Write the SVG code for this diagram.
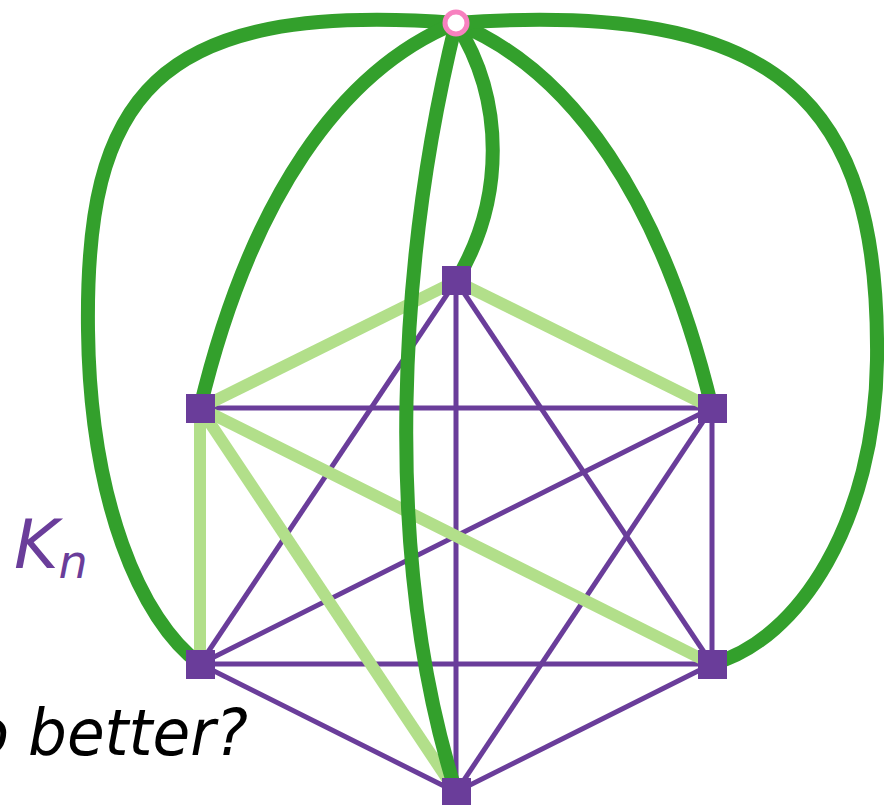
<svg xmlns="http://www.w3.org/2000/svg" width="884" height="805" viewBox="0 0 884 805">
<style>
.p{stroke:#6a3d9a;stroke-width:5;fill:none}
.lg{stroke:#b2df8a;stroke-width:12;fill:none}
.dg{stroke:#33a02c;stroke-width:14;fill:none;stroke-linecap:round}
.n{fill:#6a3d9a}
.t{font-family:"DejaVu Sans",sans-serif;font-style:italic}
</style>
<rect width="884" height="805" fill="#fff"/>
<g id="connectors">
<line class="p" x1="200" y1="408" x2="712" y2="408"/>
<line class="p" x1="456" y1="281" x2="200" y2="664"/>
<line class="p" x1="456" y1="281" x2="456" y2="792"/>
<line class="p" x1="456" y1="281" x2="712" y2="664"/>
<line class="p" x1="712" y1="408" x2="200" y2="664"/>
<line class="p" x1="712" y1="408" x2="712" y2="664"/>
<line class="p" x1="712" y1="408" x2="456" y2="792"/>
<line class="p" x1="200" y1="664" x2="712" y2="664"/>
<line class="p" x1="200" y1="664" x2="456" y2="792"/>
<line class="p" x1="712" y1="664" x2="456" y2="792"/>
<line class="lg" x1="456" y1="281" x2="200" y2="408"/>
<line class="lg" x1="456" y1="281" x2="712" y2="408"/>
<line class="lg" x1="200" y1="408" x2="200" y2="664"/>
<line class="lg" x1="200" y1="408" x2="456" y2="792"/>
<line class="lg" x1="200" y1="408" x2="712" y2="664"/>
<path class="dg" d="M456,23 C150,0 85,100 88,330 C90,500 140,620 200,664"/>
<path class="dg" d="M456,23 C340,70 250,200 200,408"/>
<path class="dg" d="M456,23 C400,250 380,550 456,792"/>
<path class="dg" d="M456,23 C505,100 505,200 456,281"/>
<path class="dg" d="M456,23 C572,70 662,200 712,408"/>
<path class="dg" d="M456,23 C780,0 880,100 877,360 C875,520 800,640 712,664"/>
</g>
<g id="node-top"><rect class="n" x="442" y="266" width="29" height="29"/></g>
<g id="node-left-upper"><rect class="n" x="186" y="394" width="29" height="29"/></g>
<g id="node-right-upper"><rect class="n" x="698" y="394" width="29" height="29"/></g>
<g id="node-left-lower"><rect class="n" x="186" y="650" width="29" height="29"/></g>
<g id="node-right-lower"><rect class="n" x="698" y="650" width="29" height="29"/></g>
<g id="node-bottom"><rect class="n" x="442" y="778" width="29" height="29"/></g>
<g id="node-apex"><circle cx="456" cy="23" r="11" fill="#fff" stroke="#f781bf" stroke-width="5"/></g>
<g id="label-kn"><text class="t" x="14" y="568" font-size="68" fill="#6a3d9a">K<tspan font-size="46" dy="10">n</tspan></text></g>
<g id="label-better"><text class="t" x="-30" y="755" font-size="64" fill="#000">o <tspan x="28" textLength="220" lengthAdjust="spacingAndGlyphs">better?</tspan></text></g>
</svg>
